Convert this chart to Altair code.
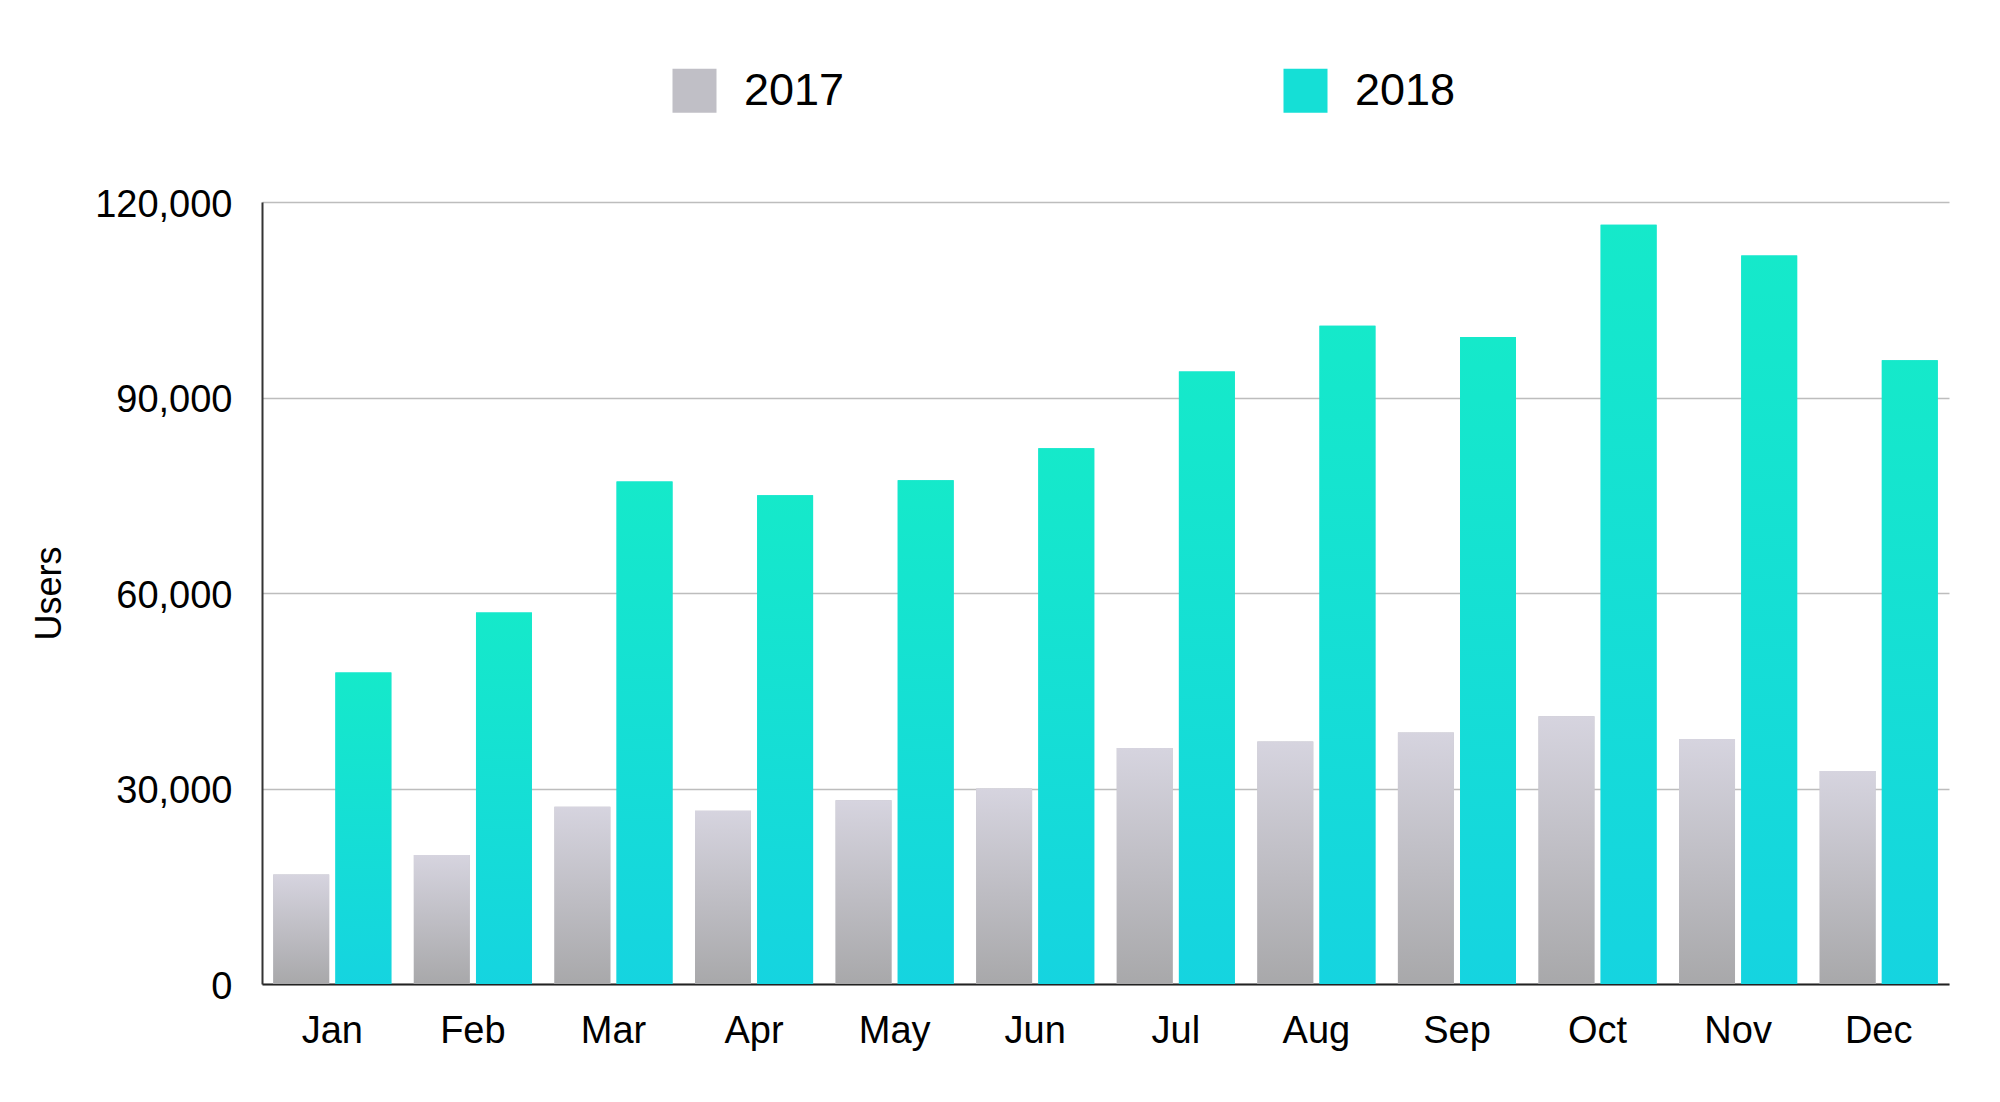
import altair as alt
import pandas as pd

months = ["Jan", "Feb", "Mar", "Apr", "May", "Jun", "Jul", "Aug", "Sep", "Oct", "Nov", "Dec"]
years = ["2017", "2018"]
users_2017 = [16800, 19800, 27200, 26600, 28200, 30000, 36200, 37200, 38600, 41100, 37600, 32700]
users_2018 = [47800, 57000, 77100, 75000, 77300, 82200, 94000, 101000, 99300, 116500, 111800, 95700]
y_ticks = [0, 30000, 60000, 90000, 120000]

rows = []
for m, a, b in zip(months, users_2017, users_2018):
    rows.append({"month": m, "year": "2017", "users": a})
    rows.append({"month": m, "year": "2018", "users": b})
df = pd.DataFrame(rows)

FONT = "Liberation Sans"

grad_2017 = alt.Gradient(
    gradient="linear",
    stops=[alt.GradientStop(offset=0, color="#d6d4df"), alt.GradientStop(offset=1, color="#a8a8aa")],
    x1=0, x2=0, y1=0, y2=1,
)
grad_2018 = alt.Gradient(
    gradient="linear",
    stops=[alt.GradientStop(offset=0, color="#15e9ca"), alt.GradientStop(offset=1, color="#15d4e0")],
    x1=0, x2=0, y1=0, y2=1,
)

x_enc = alt.X(
    "month:N",
    sort=months,
    scale=alt.Scale(paddingInner=0.16, paddingOuter=0.08),
    axis=alt.Axis(
        title=None, labelAngle=0, ticks=False, labelPadding=28,
        labelFontSize=38, labelFont=FONT, labelColor="#000000",
        domainColor="#222222", domainWidth=2, grid=False,
    ),
)
xoff_enc = alt.XOffset("year:N", sort=years, scale=alt.Scale(domain=years, paddingInner=0.1, paddingOuter=0))
y_enc = alt.Y(
    "users:Q",
    scale=alt.Scale(domain=[0, 120000], nice=False),
    axis=alt.Axis(
        title="Users", values=y_ticks, format=",d", ticks=False, labelPadding=30,
        labelOffset=3,
        labelFontSize=38, labelFont=FONT, labelColor="#000000",
        titleFontSize=36, titleFont=FONT, titleFontWeight="normal", titleColor="#000000",
        titlePadding=26, domainColor="#333333", domainWidth=2,
        grid=True, gridColor="#bdbdbd", gridWidth=1.5,
    ),
)

base = alt.Chart(df)

legend_layer = base.mark_bar().encode(
    x=x_enc,
    xOffset=xoff_enc,
    y=y_enc,
    color=alt.Color(
        "year:N",
        scale=alt.Scale(domain=years, range=["#c0bfc6", "#15dfd6"]),
        legend=alt.Legend(
            title=None, orient="none", direction="horizontal", columns=2,
            legendX=410, legendY=-134, padding=0,
            symbolType="square", symbolSize=1936, symbolStrokeWidth=0,
            labelFontSize=45, labelFont=FONT, labelColor="#000000",
            labelOffset=27, columnPadding=438, symbolOpacity=1,
        ),
    ),
)

grad_layer = base.mark_bar().encode(
    x=x_enc,
    xOffset=xoff_enc,
    y=y_enc,
    color=alt.condition(alt.datum.year == "2017", alt.value(grad_2017), alt.value(grad_2018)),
)

chart = (
    alt.layer(legend_layer, grad_layer)
    .properties(
        width=1687,
        height=782,
        autosize=alt.AutoSizeParams(type="none"),
        padding={"left": 254, "top": 194, "right": 40, "bottom": 100},
        background="#ffffff",
    )
    .configure_view(stroke=None)
)

chart.save("out.html", embed_options={"renderer": "svg", "actions": False})
